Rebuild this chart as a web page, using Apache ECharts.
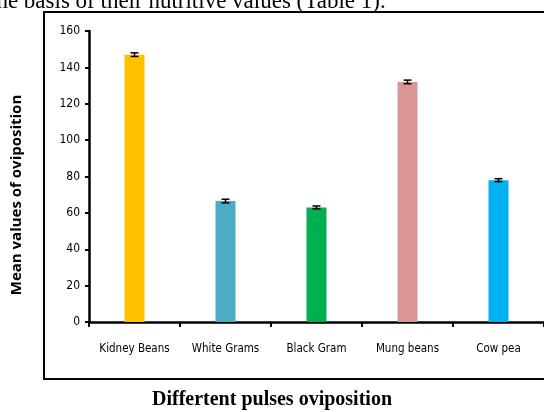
<!DOCTYPE html>
<html>
<head>
<meta charset="utf-8">
<script src="https://cdn.jsdelivr.net/npm/echarts@6/dist/echarts.min.js"></script>
<style>html,body{margin:0;padding:0;background:#fff;}#c{width:544px;height:412px;}</style>
</head>
<body>
<div id="c"></div>
<script>
const categories = ['Kidney Beans', 'White Grams', 'Black Gram', 'Mung beans', 'Cow pea'];
const meanValues = [147, 66.5, 63, 132, 78];
const errorValues = [1, 1, 0.8, 1, 0.8];
const barColors = ['#FFC000', '#4BACC6', '#00B050', '#D99694', '#00B0F0'];
const yTicks = { min: 0, max: 160, interval: 20 };

const chart = echarts.init(document.getElementById('c'), null, { renderer: 'canvas' });
const narrow = '"Liberation Sans Narrow", "Arial Narrow", "DejaVu Sans Condensed", sans-serif';

chart.setOption({
  animation: false,
  backgroundColor: '#fff',
  grid: { left: 89, top: 31, width: 458, height: 291, containLabel: false },
  xAxis: {
    type: 'category',
    data: categories,
    axisLine: { lineStyle: { color: '#000', width: 2.5 } },
    axisTick: { show: true, length: 5, lineStyle: { color: '#000', width: 2 } },
    axisLabel: { color: '#000', fontSize: 11.5, fontFamily: narrow, margin: 21, interval: 0 },
    splitLine: { show: false }
  },
  yAxis: {
    type: 'value',
    min: yTicks.min, max: yTicks.max, interval: yTicks.interval,
    axisLine: { show: true, lineStyle: { color: '#000', width: 2.5 } },
    axisTick: { show: true, length: 4, lineStyle: { color: '#000', width: 2 } },
    axisLabel: { color: '#000', fontSize: 12, fontFamily: narrow, margin: 9 },
    splitLine: { show: false }
  },
  series: [
    {
      type: 'bar',
      barWidth: 20,
      data: meanValues.map((v, i) => ({ value: v, itemStyle: { color: barColors[i] } }))
    },
    {
      type: 'custom',
      data: meanValues.map((v, i) => [i, v - errorValues[i], v + errorValues[i]]),
      renderItem: function (params, api) {
        const lo = api.coord([api.value(0), api.value(1)]);
        const hi = api.coord([api.value(0), api.value(2)]);
        const w = 4;
        const st = { stroke: '#000', lineWidth: 1.5 };
        return {
          type: 'group',
          children: [
            { type: 'line', shape: { x1: lo[0], y1: lo[1], x2: hi[0], y2: hi[1] }, style: st },
            { type: 'line', shape: { x1: lo[0] - w, y1: lo[1], x2: lo[0] + w, y2: lo[1] }, style: st },
            { type: 'line', shape: { x1: hi[0] - w, y1: hi[1], x2: hi[0] + w, y2: hi[1] }, style: st }
          ]
        };
      },
      z: 5
    }
  ],
  graphic: [
    {
      type: 'rect',
      shape: { x: 44, y: 12, width: 520, height: 367 },
      style: { fill: 'none', stroke: '#000', lineWidth: 2 },
      silent: true
    },
    {
      type: 'text',
      x: -10, y: 13,
      style: {
        text: 'the basis of their nutritive values (Table 1).',
        font: '23px "Liberation Serif", "Times New Roman", serif',
        fill: '#000',
        textVerticalAlign: 'bottom'
      }
    },
    {
      type: 'text',
      x: 17, y: 195,
      rotation: Math.PI / 2,
      style: {
        text: 'Mean values of oviposition',
        font: 'bold 15px "Open Sans", "Liberation Sans", sans-serif',
        fill: '#000',
        textAlign: 'center',
        textVerticalAlign: 'middle'
      }
    },
    {
      type: 'text',
      x: 272, y: 400,
      style: {
        text: 'Differtent pulses oviposition',
        font: 'bold 20px "Liberation Serif", "Times New Roman", serif',
        fill: '#000',
        textAlign: 'center',
        textVerticalAlign: 'middle'
      }
    }
  ]
});
</script>
</body>
</html>
